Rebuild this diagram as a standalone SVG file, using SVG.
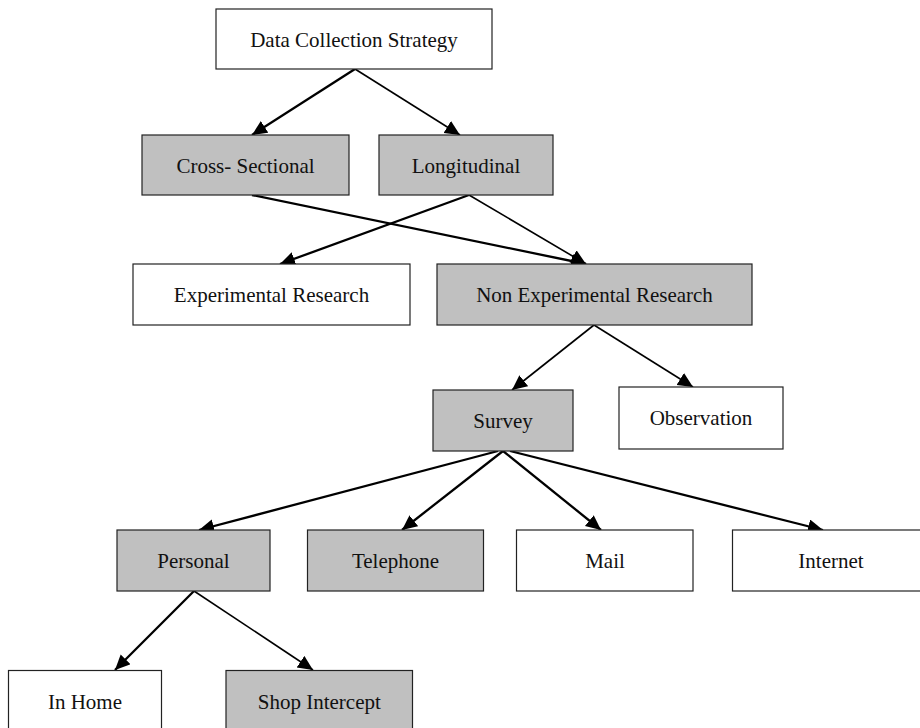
<svg xmlns="http://www.w3.org/2000/svg" width="920" height="728" viewBox="0 0 920 728">
<style>
.box{stroke:#222;stroke-width:1.2}
.w{fill:#fff}
.g{fill:#c0c0c0}
text{font-family:"Liberation Serif","Times New Roman",serif;font-size:21px;fill:#111;text-anchor:middle}
.c line{stroke:#000;fill:none;marker-end:url(#ah)}
.t1{stroke-width:1.6}
.t2{stroke-width:2.3}
</style>
<defs>
<marker id="ah" markerUnits="userSpaceOnUse" markerWidth="16" markerHeight="16" refX="15" refY="7" orient="auto">
<path d="M0,0 L15,7 L0,14 z" fill="#000"/>
</marker>
</defs>
<rect width="920" height="728" fill="#fff"/>
<g class="c">
<line class="t2" x1="355" y1="69" x2="252" y2="135"/>
<line class="t1" x1="355" y1="69" x2="460" y2="135"/>
<line class="t2" x1="252" y1="195" x2="586" y2="264"/>
<line class="t2" x1="469" y1="195" x2="280" y2="264"/>
<line class="t1" x1="469" y1="195" x2="586" y2="264"/>
<line class="t1" x1="594" y1="325" x2="512" y2="390"/>
<line class="t1" x1="594" y1="325" x2="693" y2="387"/>
<line class="t2" x1="498" y1="451" x2="199" y2="530"/>
<line class="t2" x1="503" y1="451" x2="402" y2="530"/>
<line class="t2" x1="503" y1="451" x2="601" y2="530"/>
<line class="t2" x1="510" y1="451" x2="823" y2="530"/>
<line class="t2" x1="194" y1="591" x2="115" y2="670"/>
<line class="t1" x1="194" y1="591" x2="313" y2="670"/>
</g>
<g id="dcs"><rect class="box w" x="216" y="9" width="276" height="60"/><text x="354" y="46.5">Data Collection Strategy</text></g>
<g id="cross"><rect class="box g" x="142" y="135" width="207" height="60"/><text x="245.5" y="172.5" xml:space="preserve">Cross- Sectional</text></g>
<g id="long"><rect class="box g" x="379" y="135" width="174" height="60"/><text x="466" y="172.5">Longitudinal</text></g>
<g id="exp"><rect class="box w" x="133" y="264" width="277" height="61"/><text x="271.5" y="302">Experimental Research</text></g>
<g id="nonexp"><rect class="box g" x="437" y="264" width="315" height="61"/><text x="594.5" y="302">Non Experimental Research</text></g>
<g id="survey"><rect class="box g" x="433" y="390" width="140" height="61"/><text x="503" y="428">Survey</text></g>
<g id="obs"><rect class="box w" x="619" y="387" width="164" height="62"/><text x="701" y="425">Observation</text></g>
<g id="personal"><rect class="box g" x="117" y="530" width="153" height="61"/><text x="193.5" y="568">Personal</text></g>
<g id="tel"><rect class="box g" x="307.5" y="530" width="176" height="61"/><text x="395.5" y="568">Telephone</text></g>
<g id="mail"><rect class="box w" x="516.5" y="530" width="176.5" height="61"/><text x="605" y="568">Mail</text></g>
<g id="internet"><rect class="box w" x="732.5" y="530" width="198" height="61"/><text x="831" y="568">Internet</text></g>
<g id="inhome"><rect class="box w" x="8.5" y="670.5" width="153" height="61"/><text x="85" y="708.5">In Home</text></g>
<g id="shop"><rect class="box g" x="226" y="670.5" width="186.5" height="61"/><text x="319.3" y="708.5">Shop Intercept</text></g>
</svg>
